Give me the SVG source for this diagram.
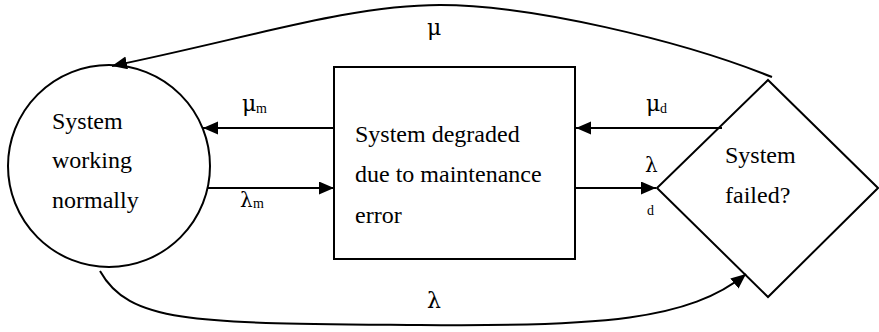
<svg xmlns="http://www.w3.org/2000/svg" width="879" height="332" viewBox="0 0 879 332">
<style>
.n{font-family:"Liberation Serif",serif;font-size:24px;fill:#000}
.s{font-family:"Liberation Serif",serif;font-size:14px;fill:#000}
.gk{font-family:"DejaVu Serif",serif;fill:#000}
.shape{fill:#fff;stroke:#000;stroke-width:2}
.c{fill:none;stroke:#000;stroke-width:2}
</style>
<defs>
<marker id="ah" markerUnits="userSpaceOnUse" markerWidth="16" markerHeight="14" refX="15" refY="6.5" orient="auto">
<path d="M0,0 L15,6.5 L0,13 z" fill="#000"/>
</marker>
</defs>
<rect width="879" height="332" fill="#fff"/>
<g id="node-working">
<circle class="shape" cx="109" cy="166" r="101"/>
<text class="n" x="52" y="129">System</text>
<text class="n" x="52" y="168">working</text>
<text class="n" x="52" y="208">normally</text>
</g>
<g id="node-degraded">
<rect class="shape" x="334" y="67" width="241" height="192"/>
<text class="n" x="355" y="142">System degraded</text>
<text class="n" x="355" y="182">due to maintenance</text>
<text class="n" x="355" y="223">error</text>
</g>
<g id="node-failed">
<polygon class="shape" points="768,80 878,188 768,297 657,188"/>
<text class="n" x="725" y="163">System</text>
<text class="n" x="725" y="203">failed?</text>
</g>
<g id="connectors">
<line class="c" x1="334" y1="128" x2="203" y2="128" marker-end="url(#ah)"/>
<line class="c" x1="208" y1="188" x2="334" y2="188" marker-end="url(#ah)"/>
<line class="c" x1="722" y1="128" x2="576" y2="128" marker-end="url(#ah)"/>
<line class="c" x1="575" y1="188" x2="656" y2="188" marker-end="url(#ah)"/>
<path class="c" d="M772,77 C680,40 530,5 440,5 C350,5 250,37.6 112,66" marker-end="url(#ah)"/>
<path class="c" d="M100,271 C130,325 200,323 420,325 C600,327 690,320 746,274" marker-end="url(#ah)"/>
</g>
<g id="labels">
<text class="gk" x="427" y="35" font-size="22">μ</text>
<text class="gk" x="242" y="111" font-size="22">μ</text>
<text class="s" x="256" y="113">m</text>
<text class="gk" x="240" y="207" font-size="20">λ</text>
<text class="s" x="253" y="208">m</text>
<text class="gk" x="646" y="111" font-size="22">μ</text>
<text class="s" x="660" y="113">d</text>
<text class="gk" x="645" y="172" font-size="20">λ</text>
<text class="s" x="647" y="215">d</text>
<text class="gk" x="427" y="308" font-size="22">λ</text>
</g>
</svg>
